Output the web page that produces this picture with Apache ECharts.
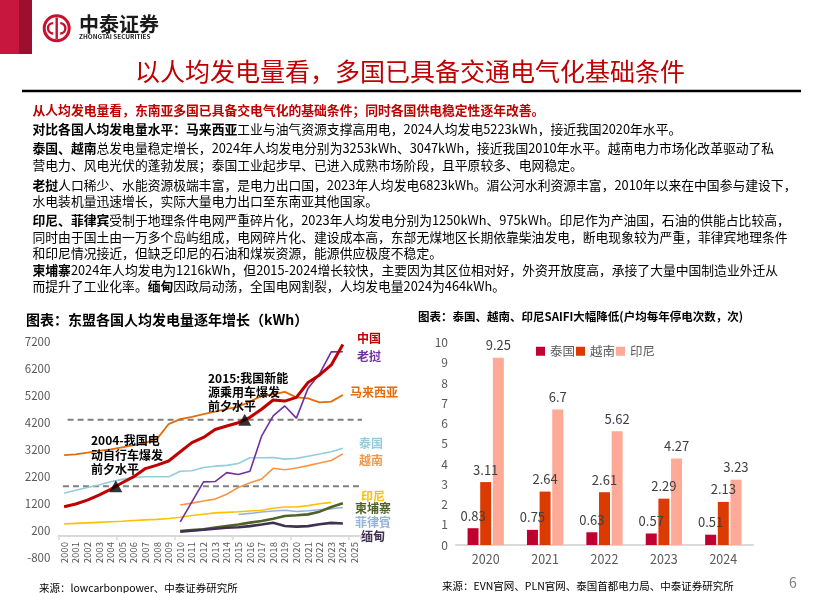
<!DOCTYPE html>
<html lang="zh-CN">
<head>
<meta charset="UTF-8">
<title>以人均发电量看，多国已具备交通电气化基础条件</title>
<style>
  html, body { margin: 0; padding: 0; background: #fff; }
  #main { width: 813px; height: 593px; }
</style>
<script src="https://cdn.jsdelivr.net/npm/echarts@6/dist/echarts.min.js"></script>
</head>
<body>
<div id="main"></div>
<script>
  // ---------- 左图：东盟各国人均发电量（kWh） ----------
  var years = ['2000', '2001', '2002', '2003', '2004', '2005', '2006', '2007', '2008', '2009',
    '2010', '2011', '2012', '2013', '2014', '2015', '2016', '2017', '2018', '2019',
    '2020', '2021', '2022', '2023', '2024', '2025'];
  var china = [1090, 1190, 1335, 1520, 1730, 1975, 2200, 2500, 2630, 2780, 3125, 3460, 3655,
    3950, 4080, 4200, 4400, 4700, 5040, 5000, 5140, 5690, 5970, 6340, 7100, null];
  var malaysia = [3000, 3030, 3090, 3160, 3210, 3290, 3370, 3450, 3600, 4150, 4330, 4420, 4520,
    4610, 4710, 4790, 4980, 5190, 5250, 5340, 5140, 5100, 4950, 4980, 5223, null];
  var thailand = [1585, 1700, 1800, 1890, 2010, 2100, 2170, 2200, 2200, 2200, 2400, 2420, 2540,
    2590, 2620, 2690, 2900, 2900, 2910, 2850, 2880, 2960, 3040, 3125, 3253, null];
  var vietnam = [null, null, null, null, null, null, null, null, null, null, 1150, 1220, 1300,
    1370, 1550, 1800, 1975, 2110, 2510, 2460, 2520, 2610, 2710, 2800, 3047, null];
  var laos = [null, null, null, null, null, null, null, null, null, null, 530, 1270, 2010,
    2020, 2350, 2280, 2400, 3700, 4450, 4820, 4370, 5470, 6020, 6823, 6830, null];
  var indonesia = [450, 470, 490, 510, 530, 550, 575, 600, 620, 650, 700, 760, 810,
    860, 880, 900, 930, 960, 1030, 1080, 1080, 1130, 1200, 1250, null, null];
  var philippines = [null, null, null, null, null, null, null, null, null, null, null, null, null,
    null, null, 800, 840, 890, 930, 960, 910, 940, 975, 1010, 1060, null];
  var cambodia = [null, null, null, null, null, null, null, null, null, null, 190, 220, 250,
    320, 375, 430, 500, 560, 645, 745, 770, 805, 905, 1080, 1216, null];
  var myanmar = [null, null, null, null, null, null, null, null, null, null, 165, 200, 235,
    270, 310, 330, 370, 430, 495, 375, 350, 370, 440, 490, 464, null];
  // 参考虚线（我国2004年、2015年水平）与三角标记
  var refLow = [[-0.1, 1850], [26.2, 1850]];
  var refHigh = [[0.3, 4310], [26.2, 4310]];
  var triangles = [[4.45, 1850], [15.55, 4310]];

  // ---------- 右图：SAIFI（户均每年停电次数） ----------
  var barYears = ['2020', '2021', '2022', '2023', '2024'];
  var saifiThai = [0.83, 0.75, 0.63, 0.57, 0.51];
  var saifiVn = [3.11, 2.64, 2.61, 2.29, 2.13];
  var saifiIdn = [9.25, 6.7, 5.62, 4.27, 3.23];

  var FONT = "'Noto Sans CJK SC', 'Noto Sans', sans-serif";

  function txt(x, y, s, opt) {
    var st = {
      text: s, fill: '#000', fontSize: 12.8, fontFamily: FONT,
      align: 'left', verticalAlign: 'middle', textAlign: 'left', textVerticalAlign: 'middle'
    };
    for (var k in opt) st[k] = opt[k];
    return { type: 'text', x: x, y: y, silent: true, z: 100, style: st };
  }
  var boldRich = { b: { fontWeight: 'bold', fontSize: 12.8, fontFamily: FONT, fill: '#000' } };

  // 正文
  var paras = [
    [110, '从人均发电量看，东南亚多国已具备交电气化的基础条件；同时各国供电稳定性逐年改善。', true],
    [129, '{b|对比各国人均发电量水平：马来西亚}工业与油气资源支撑高用电，2024人均发电5223kWh，接近我国2020年水平。'],
    [148, '{b|泰国、越南}总发电量稳定增长，2024年人均发电分别为3253kWh、3047kWh，接近我国2010年水平。越南电力市场化改革驱动了私'],
    [165, '营电力、风电光伏的蓬勃发展；泰国工业起步早、已进入成熟市场阶段，且平原较多、电网稳定。'],
    [185, '{b|老挝}人口稀少、水能资源极端丰富，是电力出口国，2023年人均发电6823kWh。湄公河水利资源丰富，2010年以来在中国参与建设下，'],
    [201, '水电装机量迅速增长，实际大量电力出口至东南亚其他国家。'],
    [220, '{b|印尼、菲律宾}受制于地理条件电网严重碎片化，2023年人均发电分别为1250kWh、975kWh。印尼作为产油国，石油的供能占比较高，'],
    [237, '同时由于国土由一万多个岛屿组成，电网碎片化、建设成本高，东部无煤地区长期依靠柴油发电，断电现象较为严重，菲律宾地理条件'],
    [253, '和印尼情况接近，但缺乏印尼的石油和煤炭资源，能源供应极度不稳定。'],
    [270, '{b|柬埔寨}2024年人均发电为1216kWh，但2015-2024增长较快，主要因为其区位相对好，外资开放度高，承接了大量中国制造业外迁从'],
    [286, '而提升了工业化率。{b|缅甸}因政局动荡，全国电网割裂，人均发电量2024为464kWh。']
  ];

  var graphics = [
    { type: 'rect', silent: true, shape: { x: 0, y: 0, width: 19, height: 54 }, style: { fill: '#C8173E' } },
    { type: 'rect', silent: true, shape: { x: 19, y: 0, width: 13, height: 54 }, style: { fill: '#9D0F2E' } },
    { type: 'circle', silent: true, shape: { cx: 56.7, cy: 28.3, r: 12.5 }, style: { fill: 'none', stroke: '#C8102E', lineWidth: 3 } },
    { type: 'arc', silent: true, shape: { cx: 53.2, cy: 28.3, r: 5.2, startAngle: Math.PI / 2, endAngle: Math.PI * 1.5 }, style: { fill: 'none', stroke: '#C8102E', lineWidth: 2.4 } },
    { type: 'arc', silent: true, shape: { cx: 60.2, cy: 28.3, r: 5.2, startAngle: -Math.PI / 2, endAngle: Math.PI / 2 }, style: { fill: 'none', stroke: '#C8102E', lineWidth: 2.4 } },
    { type: 'line', silent: true, shape: { x1: 56.7, y1: 17.5, x2: 56.7, y2: 39 }, style: { stroke: '#C8102E', lineWidth: 2.4 } },
    txt(79, 24.5, '中泰证券', { fontSize: 20, fontWeight: 'bold', fill: '#1a1a1a' }),
    txt(79, 36.8, 'ZHONGTAI SECURITIES', { fontSize: 6.4, fontWeight: 'bold', fill: '#1a1a1a' }),
    txt(410, 71, '以人均发电量看，多国已具备交通电气化基础条件', { fontSize: 25, fill: '#C00000', align: 'center', textAlign: 'center' }),
    { type: 'line', silent: true, shape: { x1: 22, y1: 91, x2: 801, y2: 91 }, style: { stroke: '#000', lineWidth: 2.5 } },
    // 图表标题
    txt(26, 320, '图表：东盟各国人均发电量逐年增长（kWh）', { fontSize: 14, fontWeight: 'bold' }),
    txt(418, 317, '图表：泰国、越南、印尼SAIFI大幅降低(户均每年停电次数，次)', { fontSize: 11.5, fontWeight: 'bold' }),
    // 注释
    txt(91, 440, '2004-我国电', { fontSize: 12, fontWeight: 'bold' }),
    txt(91, 455, '动自行车爆发', { fontSize: 12, fontWeight: 'bold' }),
    txt(91, 469.5, '前夕水平', { fontSize: 12, fontWeight: 'bold' }),
    txt(208, 378.5, '2015:我国新能', { fontSize: 12, fontWeight: 'bold' }),
    txt(208, 392.5, '源乘用车爆发', { fontSize: 12, fontWeight: 'bold' }),
    txt(208, 406.5, '前夕水平', { fontSize: 12, fontWeight: 'bold' }),
    // 来源与页码
    txt(39, 588, '来源：lowcarbonpower、中泰证券研究所', { fontSize: 10.5 }),
    txt(442, 586, '来源：EVN官网、PLN官网、泰国首都电力局、中泰证券研究所', { fontSize: 10.5 }),
    txt(789, 583, '6', { fontSize: 14, fill: '#7F7F7F' })
  ];
  paras.forEach(function (p) {
    if (p[2]) {
      graphics.push(txt(32.5, p[0], p[1], { fill: '#C00000', fontWeight: 'bold' }));
    } else {
      graphics.push(txt(32.5, p[0], p[1], { rich: boldRich }));
    }
  });

  // 左图右侧国家名
  var endLabels = [
    ['中国', '#C00000', 357, 338.5],
    ['老挝', '#7030A0', 357, 356.5],
    ['马来西亚', '#E46C0A', 350, 392.5],
    ['泰国', '#92CDDC', 359, 443],
    ['越南', '#F79646', 359, 460],
    ['印尼', '#FFC000', 361, 496.5],
    ['柬埔寨', '#4F6228', 355, 508.5],
    ['菲律賓', '#95B3D7', 355, 522.5],
    ['缅甸', '#403152', 361, 536]
  ];
  endLabels.forEach(function (l) {
    graphics.push(txt(l[2], l[3], l[0], { fontSize: 12, fontWeight: 'bold', fill: l[1] }));
  });

  function lineSeries(name, data, color, width) {
    return {
      name: name, type: 'line', xAxisIndex: 0, yAxisIndex: 0, data: data,
      symbol: 'none', smooth: false,
      lineStyle: { color: color, width: width }, itemStyle: { color: color }
    };
  }
  function refSeries(data) {
    return {
      type: 'line', xAxisIndex: 1, yAxisIndex: 0, data: data, symbol: 'none', clip: false,
      lineStyle: { color: '#7F7F7F', width: 2, type: [6, 4] }, z: 3
    };
  }

  // 左图y轴：-800 ~ 7200，横轴压在0刻度处
  var yMinL = -800, yMaxL = 7200, gridTopL = 341.7, gridHL = 216;
  var zeroOffset = -gridHL * (0 - yMinL) / (yMaxL - yMinL);

  var myChart = echarts.init(document.getElementById('main'));
  var option = {
    animation: false,
    textStyle: { fontFamily: FONT },
    graphic: graphics,
    grid: [
      { left: 58.3, top: gridTopL, width: 302, height: gridHL },
      { left: 456, top: 342.7, width: 297, height: 202.3 }
    ],
    legend: {
      data: ['泰国', '越南', '印尼'], left: 536, top: 345, padding: 0,
      itemWidth: 9, itemHeight: 9, itemGap: 1, icon: 'rect',
      textStyle: { color: '#595959', fontSize: 12.5 }
    },
    xAxis: [
      {
        type: 'category', gridIndex: 0, data: years, boundaryGap: true, offset: zeroOffset,
        axisLine: { onZero: false, lineStyle: { color: '#D9D9D9', width: 2 } },
        axisTick: { show: true, interval: 4, length: 4, lineStyle: { color: '#D9D9D9', width: 1.5 } },
        axisLabel: { rotate: 90, interval: 0, fontSize: 9.5, color: '#595959', margin: 6 }
      },
      { type: 'value', gridIndex: 0, min: -0.5, max: 25.5, show: false },
      {
        type: 'category', gridIndex: 1, data: barYears,
        axisLine: { lineStyle: { color: '#D9D9D9', width: 2 } },
        axisTick: { show: false },
        axisLabel: { fontSize: 12.5, color: '#595959', margin: 8 }
      }
    ],
    yAxis: [
      {
        type: 'value', gridIndex: 0, min: yMinL, max: yMaxL, interval: 1000,
        axisLine: { show: false }, axisTick: { show: false }, splitLine: { show: false },
        axisLabel: { fontSize: 11.5, color: '#595959', margin: 8, formatter: function (v) { return String(v); } }
      },
      {
        type: 'value', gridIndex: 1, min: 0, max: 10, interval: 1,
        axisLine: { show: false }, axisTick: { show: false }, splitLine: { show: false },
        axisLabel: { fontSize: 12, color: '#595959', margin: 8 }
      }
    ],
    series: [
      refSeries(refLow),
      refSeries(refHigh),
      lineSeries('泰国人均发电', thailand, '#92CDDC', 1.6),
      lineSeries('越南人均发电', vietnam, '#F79646', 1.6),
      lineSeries('马来西亚人均发电', malaysia, '#E46C0A', 1.8),
      lineSeries('印尼人均发电', indonesia, '#FFC000', 1.6),
      lineSeries('菲律賓人均发电', philippines, '#95B3D7', 1.6),
      lineSeries('柬埔寨人均发电', cambodia, '#4F6228', 2.6),
      lineSeries('缅甸人均发电', myanmar, '#403152', 2.6),
      lineSeries('老挝人均发电', laos, '#7030A0', 1.6),
      lineSeries('中国人均发电', china, '#C00000', 3),
      {
        type: 'scatter', xAxisIndex: 1, yAxisIndex: 0, data: triangles,
        symbol: 'triangle', symbolSize: [13, 12], itemStyle: { color: '#000' }, z: 10
      },
      {
        name: '泰国', type: 'bar', xAxisIndex: 2, yAxisIndex: 1, data: saifiThai,
        barWidth: 11, barGap: '15%', itemStyle: { color: '#C0002F' },
        label: { show: true, position: 'top', distance: 6, color: '#404040', fontSize: 13 }
      },
      {
        name: '越南', type: 'bar', xAxisIndex: 2, yAxisIndex: 1, data: saifiVn,
        barWidth: 11, barGap: '15%', itemStyle: { color: '#DB3A00' },
        label: { show: true, position: 'top', distance: 6, color: '#404040', fontSize: 13 }
      },
      {
        name: '印尼', type: 'bar', xAxisIndex: 2, yAxisIndex: 1, data: saifiIdn,
        barWidth: 11, barGap: '15%', itemStyle: { color: '#FFAA96' },
        label: { show: true, position: 'top', distance: 6, color: '#404040', fontSize: 13 }
      }
    ]
  };
  myChart.setOption(option);
</script>
</body>
</html>
